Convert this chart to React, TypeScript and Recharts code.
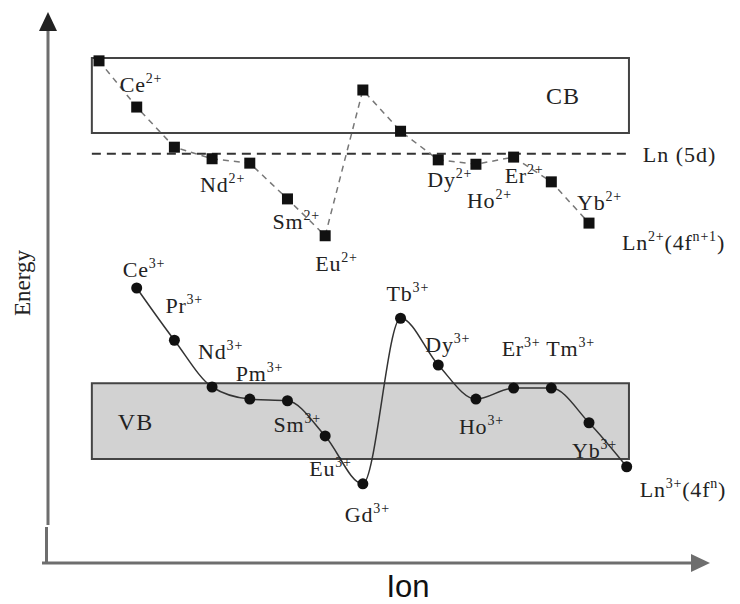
import React from 'react';
import { ComposedChart, Line, XAxis, YAxis, ReferenceArea, ReferenceLine } from 'recharts';

// Lanthanide series, La → Lu (x position = index in this list)
const ions = ['La', 'Ce', 'Pr', 'Nd', 'Pm', 'Sm', 'Eu', 'Gd', 'Tb', 'Dy', 'Ho', 'Er', 'Tm', 'Yb', 'Lu'];

// Ground-state level energies (arbitrary units, 0–100)
const divalentLevel = [91.3, 82.9, 75.6, 73.5, 72.7, 66.2, 59.5, 86.0, 78.5, 73.3, 72.5, 73.8, 69.3, 61.8, null];
const trivalentLevel = [null, 50.0, 40.5, 32.0, 29.8, 29.5, 23.1, 14.4, 44.5, 36.0, 29.8, 31.8, 31.8, 25.5, 17.5];

// Which ions get a name tag
const divalentTagged = ['Ce', 'Nd', 'Sm', 'Eu', 'Dy', 'Ho', 'Er', 'Yb'];
const trivalentTagged = ['Ce', 'Pr', 'Nd', 'Pm', 'Sm', 'Eu', 'Gd', 'Tb', 'Dy', 'Ho', 'Er', 'Tm', 'Yb'];

// Host bands and the 5d level
const conductionBand = [78.2, 91.8];
const valenceBand = [18.9, 32.7];
const level5d = 74.4;
const bandSpan = [-0.19, 14.06];

const data = ions.map((ion, i) => ({
  pos: i,
  ion,
  divalent: divalentLevel[i],
  trivalent: trivalentLevel[i],
}));

const SERIF = '"Liberation Serif", "Times New Roman", serif';
const INK = '#222';

// label placement relative to the marker: [dx, baseline dy]
const DIVALENT_TAG: Record<string, [number, number]> = {
  Ce: [-17, -15], Nd: [-12, 33], Sm: [-15, 30], Eu: [-10, 35],
  Dy: [-11, 27], Ho: [-9, 44], Er: [-9, 26], Yb: [-12, -13],
};
const TRIVALENT_TAG: Record<string, [number, number]> = {
  Ce: [-14, -11], Pr: [-9, -27], Nd: [-14, -28], Pm: [-14, -18], Sm: [-14, 31],
  Eu: [-16, 40], Gd: [-18, 38], Tb: [-14, -17], Dy: [-13, -13], Ho: [-17, 35],
  Er: [-12, -32], Tm: [-5, -32], Yb: [-17, 35],
};

type Part = [string, boolean];

function Formula({ x, y, parts, size = 22 }: { x: number; y: number; parts: Part[]; size?: number }) {
  let raised = false;
  return (
    <text x={x} y={y} fontFamily={SERIF} fontSize={size} fill={INK} letterSpacing={0.8}>
      {parts.map(([t, sup], k) => {
        const dy = sup && !raised ? -9 : !sup && raised ? 9 : 0;
        raised = sup;
        return (
          <tspan key={k} dy={dy} fontSize={sup ? 14 : size}>
            {t}
          </tspan>
        );
      })}
    </text>
  );
}

const lastDivalent = divalentLevel.map((v, i) => (v == null ? -1 : i)).reduce((a, b) => Math.max(a, b), -1);
const lastTrivalent = trivalentLevel.map((v, i) => (v == null ? -1 : i)).reduce((a, b) => Math.max(a, b), -1);

const renderDivalent = (p: any) => {
  const { cx, cy, index, payload } = p;
  if (cx == null || cy == null || payload?.divalent == null) return <g key={`d${index}`} />;
  const tag = divalentTagged.includes(payload.ion) ? DIVALENT_TAG[payload.ion] : null;
  return (
    <g key={`d${index}`}>
      <rect x={cx - 5.5} y={cy - 5.5} width={11} height={11} fill="#111" />
      {tag && <Formula x={cx + tag[0]} y={cy + tag[1]} parts={[[payload.ion, false], ['2+', true]]} />}
      {index === lastDivalent && (
        <Formula
          x={cx + 33}
          y={cy + 27}
          parts={[['Ln', false], ['2+', true], ['(4f', false], ['n+1', true], [')', false]]}
        />
      )}
    </g>
  );
};

const renderTrivalent = (p: any) => {
  const { cx, cy, index, payload } = p;
  if (cx == null || cy == null || payload?.trivalent == null) return <g key={`t${index}`} />;
  const tag = trivalentTagged.includes(payload.ion) ? TRIVALENT_TAG[payload.ion] : null;
  return (
    <g key={`t${index}`}>
      <circle cx={cx} cy={cy} r={5.5} fill="#111" />
      {tag && <Formula x={cx + tag[0]} y={cy + tag[1]} parts={[[payload.ion, false], ['3+', true]]} />}
      {index === lastTrivalent && (
        <Formula
          x={cx + 13}
          y={cy + 30}
          parts={[['Ln', false], ['3+', true], ['(4f', false], ['n', true], [')', false]]}
        />
      )}
    </g>
  );
};

const AXIS = '#6e6e6e';

export default function App() {
  return (
    <div style={{ position: 'absolute', left: 0, top: 0, width: 740, height: 604, background: '#fff' }}>
      <ComposedChart width={740} height={604} data={data} margin={{ top: 13, right: 30, bottom: 41, left: 47 }}>
        <XAxis dataKey="pos" type="number" domain={[-1.38, 16.21]} hide />
        <YAxis type="number" domain={[0, 100]} hide />

        <ReferenceArea
          x1={bandSpan[0]}
          x2={bandSpan[1]}
          y1={conductionBand[0]}
          y2={conductionBand[1]}
          fill="#fff"
          fillOpacity={1}
          stroke="#444"
          strokeWidth={2}
          label={{ value: 'CB', position: 'insideRight', offset: 49, fill: INK, fontSize: 24, fontFamily: SERIF, letterSpacing: 1 }}
        />
        <ReferenceArea
          x1={bandSpan[0]}
          x2={bandSpan[1]}
          y1={valenceBand[0]}
          y2={valenceBand[1]}
          fill="#d2d2d2"
          fillOpacity={1}
          stroke="#444"
          strokeWidth={2}
          label={{ value: 'VB', position: 'insideLeft', offset: 26, fill: INK, fontSize: 24, fontFamily: SERIF, letterSpacing: 1 }}
        />
        <ReferenceLine
          segment={[{ x: bandSpan[0], y: level5d }, { x: 14.03, y: level5d }]}
          stroke="#333"
          strokeWidth={2}
          strokeDasharray="9 6"
          label={{ value: 'Ln (5d)', position: 'right', offset: 15, fill: INK, fontSize: 22, fontFamily: SERIF, letterSpacing: 1 }}
        />

        <Line
          dataKey="divalent"
          type="linear"
          stroke="#777"
          strokeWidth={1.5}
          strokeDasharray="6 5"
          dot={renderDivalent}
          activeDot={false}
          isAnimationActive={false}
        />
        <Line
          dataKey="trivalent"
          type="monotone"
          stroke="#333"
          strokeWidth={1.5}
          dot={renderTrivalent}
          activeDot={false}
          isAnimationActive={false}
        />

        {/* energy axis with arrow */}
        <line x1={48} y1={28} x2={48} y2={525} stroke={AXIS} strokeWidth={3} />
        <polygon points="48,12 39,31 57,31" fill="#222" />
        <line x1={46.5} y1={527} x2={46.5} y2={563} stroke={AXIS} strokeWidth={3} />
        {/* ion axis with arrow */}
        <line x1={42} y1={563} x2={694} y2={563} stroke={AXIS} strokeWidth={3} />
        <polygon points="691,554 710,563 691,572" fill={AXIS} />

        <text
          x={22}
          y={283}
          transform="rotate(-90, 22, 283)"
          textAnchor="middle"
          dominantBaseline="central"
          fontFamily={SERIF}
          fontSize={23}
          fill={INK}
        >
          Energy
        </text>
        <text x={408} y={597} textAnchor="middle" fontFamily='"Liberation Sans", Arial, sans-serif' fontSize={31} fill="#111">
          Ion
        </text>
      </ComposedChart>
    </div>
  );
}
